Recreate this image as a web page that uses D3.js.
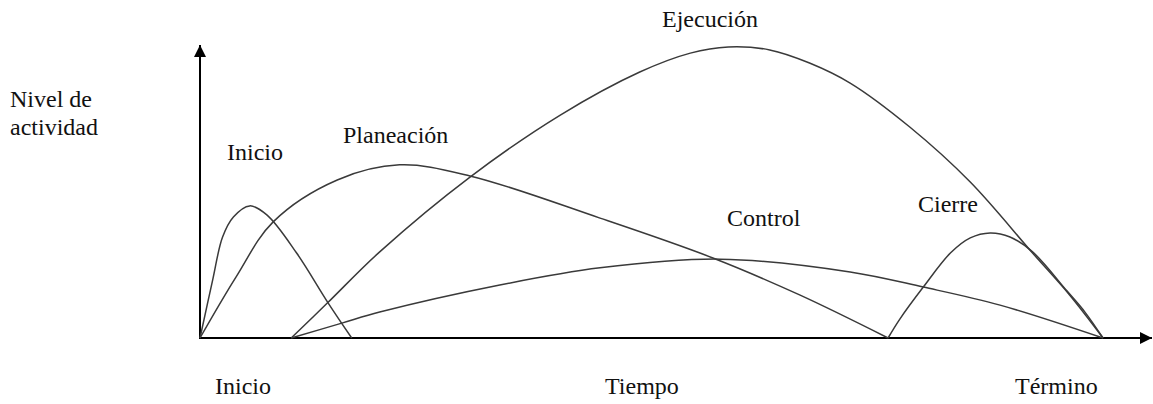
<!DOCTYPE html>
<html>
<head>
<meta charset="utf-8">
<script src="https://cdn.jsdelivr.net/npm/d3@7"></script>
<style>
  body { margin: 0; background: #fff; }
</style>
</head>
<body>
<div id="chart"></div>
<script>
// phases of the project, values as [tiempo, nivel]
var phases = ["Inicio", "Planeación", "Ejecución", "Control", "Cierre"];
var inicio = [[0,0],[1.4,19.9],[2.5,34.7],[3.7,41.6],[5.5,45.4],[7.4,42.3],[10.7,29.2],[14.2,12.0],[16.8,0]];
var planeacion = [[0,0],[4.0,21.0],[8.1,39.9],[15.2,54.3],[22.1,59.5],[29.9,55.7],[44.3,41.2],[56.8,27.5],[66.4,14.8],[76.2,0]];
var ejecucion = [[10.1,0],[14.1,12.0],[19.9,29.6],[29.9,55.3],[39.9,76.6],[48.7,91.4],[54.3,97.9],[58.5,100],[63.1,99.0],[67.5,94.5],[72.0,87.6],[78.6,72.5],[85.3,53.6],[92.2,29.2],[96.3,14.8],[100,0]];
var control = [[10.1,0],[15.8,5.2],[19.9,8.9],[33.2,18.2],[44.3,24.1],[57.6,27.1],[72.0,22.7],[80.1,17.5],[88.6,11.3],[100,0]];
var cierre = [[76.2,0],[77.5,6.5],[80.1,17.5],[83.1,29.2],[85.3,34.4],[87.5,36.1],[89.7,34.7],[92.2,29.6],[96.0,16.2],[98.0,8.9],[100,0]];
var series = [inicio, planeacion, ejecucion, control, cierre];

// axis labels
var yTitle = ["Nivel de", "actividad"];
var xTicks = [{t: 0, label: "Inicio"}, {t: 50, label: "Tiempo"}, {t: 100, label: "Término"}];

var width = 1153, height = 404;
var serif = "'Liberation Serif', 'Times New Roman', Times, 'Noto Serif', 'DejaVu Serif', serif";

var svg = d3.select("#chart").append("svg")
  .attr("width", width)
  .attr("height", height)
  .attr("font-family", serif)
  .attr("font-size", 24);

var x = d3.scaleLinear().domain([0, 100]).range([200, 1103]);
var y = d3.scaleLinear().domain([0, 100]).range([338, 47]);

// arrow heads
var defs = svg.append("defs");
defs.append("marker")
  .attr("id", "arrow")
  .attr("viewBox", "0 0 10 10")
  .attr("refX", 10).attr("refY", 5)
  .attr("markerUnits", "userSpaceOnUse")
  .attr("markerWidth", 15).attr("markerHeight", 12)
  .attr("orient", "auto")
  .append("path")
  .attr("d", "M0,0 L10,5 L0,10 Z")
  .attr("fill", "#000");

// axes
svg.append("line")
  .attr("x1", x(0)).attr("y1", y(0))
  .attr("x2", x(0)).attr("y2", 45)
  .attr("stroke", "#000").attr("stroke-width", 2)
  .attr("marker-end", "url(#arrow)");
svg.append("line")
  .attr("x1", x(0) - 1).attr("y1", y(0))
  .attr("x2", 1152).attr("y2", y(0))
  .attr("stroke", "#000").attr("stroke-width", 2)
  .attr("marker-end", "url(#arrow)");

// curves
var line = d3.line()
  .x(function(d) { return x(d[0]); })
  .y(function(d) { return y(d[1]); })
  .curve(d3.curveCatmullRom.alpha(0.5));

svg.selectAll(".phase")
  .data(series)
  .enter()
  .append("path")
  .attr("class", "phase")
  .attr("d", line)
  .attr("fill", "none")
  .attr("stroke", "#3a3a3a")
  .attr("stroke-width", 1.5);

// phase labels
var labelPos = [[227,160],[343,143],[662,27],[727,226],[918,212]];
svg.selectAll(".plabel")
  .data(phases)
  .enter()
  .append("text")
  .attr("class", "plabel")
  .attr("x", function(d, i) { return labelPos[i][0]; })
  .attr("y", function(d, i) { return labelPos[i][1]; })
  .attr("fill", "#111")
  .text(function(d) { return d; });

// y title
svg.selectAll(".ytitle")
  .data(yTitle)
  .enter()
  .append("text")
  .attr("class", "ytitle")
  .attr("x", 10)
  .attr("y", function(d, i) { return 107 + i * 28; })
  .attr("fill", "#111")
  .text(function(d) { return d; });

// x labels
var xLabelX = [215, 605, 1015];
svg.selectAll(".xlabel")
  .data(xTicks)
  .enter()
  .append("text")
  .attr("class", "xlabel")
  .attr("x", function(d, i) { return xLabelX[i]; })
  .attr("y", 394)
  .attr("fill", "#111")
  .text(function(d) { return d.label; });
</script>
</body>
</html>
